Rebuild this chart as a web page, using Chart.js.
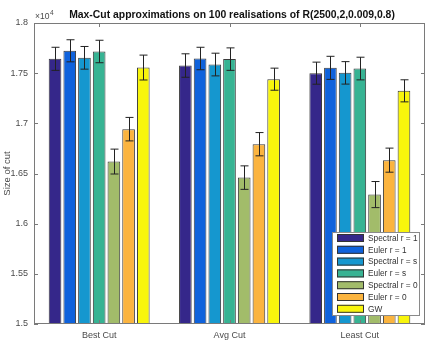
<!DOCTYPE html>
<html>
<head>
<meta charset="utf-8">
<script src="https://cdn.jsdelivr.net/npm/chart.js@4.4.1/dist/chart.umd.min.js"></script>
<style>
  body { margin: 0; background: #fff; }
  #wrap { width: 432px; height: 348px; position: relative; }
</style>
</head>
<body>
<div id="wrap"><canvas id="cut-chart"></canvas></div>
<script>
// Max-Cut approximations — values in units of 1e4
const categories = ['Best Cut', 'Avg Cut', 'Least Cut'];
const seriesNames = ['Spectral r = 1', 'Euler r = 1', 'Spectral r = s', 'Euler r = s', 'Spectral r = 0', 'Euler r = 0', 'GW'];
const seriesColors = ['#35278a', '#0f62dc', '#1597cf', '#37b393', '#a2bc6a', '#fbb43f', '#f8f50c'];

const spectral1 = [1.7643, 1.7576, 1.7500];
const euler1 = [1.7723, 1.7646, 1.7553];
const spectralS = [1.7653, 1.7586, 1.7503];
const eulerS = [1.7716, 1.7640, 1.7546];
const spectral0 = [1.6619, 1.6459, 1.6290];
const euler0 = [1.6942, 1.6792, 1.6633];
const gw = [1.7556, 1.7440, 1.7324];

const spectral1Err = [0.0115, 0.0117, 0.0110];
const euler1Err = [0.0110, 0.0112, 0.0115];
const spectralSErr = [0.0113, 0.0113, 0.0112];
const eulerSErr = [0.0112, 0.0112, 0.0113];
const spectral0Err = [0.0124, 0.0117, 0.0130];
const euler0Err = [0.0117, 0.0116, 0.0120];
const gwErr = [0.0124, 0.0110, 0.0110];

const yTickLabels = ['1.5', '1.55', '1.6', '1.65', '1.7', '1.75', '1.8'];

const values = [spectral1, euler1, spectralS, eulerS, spectral0, euler0, gw];
const errors = [spectral1Err, euler1Err, spectralSErr, eulerSErr, spectral0Err, euler0Err, gwErr];

const FONT = "'Liberation Sans', Arial, sans-serif";
const TXT = '#4a4a4a';
const AXIS = '#7a7a7a';

// error bars, frame with inward ticks, legend, title
const decor = {
  id: 'decor',
  afterDatasetsDraw(chart) {
    const ctx = chart.ctx;
    const y = chart.scales.y;
    ctx.save();
    ctx.strokeStyle = '#222';
    ctx.lineWidth = 1;
    chart.data.datasets.forEach((ds, di) => {
      chart.getDatasetMeta(di).data.forEach((bar, i) => {
        const v = ds.data[i], e = errors[di][i];
        const x = Math.round(bar.x) + 0.5;
        const yt = y.getPixelForValue(v + e), yb = y.getPixelForValue(v - e);
        ctx.beginPath();
        ctx.moveTo(x, yt); ctx.lineTo(x, yb);
        ctx.moveTo(x - 4, yt); ctx.lineTo(x + 4, yt);
        ctx.moveTo(x - 4, yb); ctx.lineTo(x + 4, yb);
        ctx.stroke();
      });
    });
    ctx.restore();
  },
  afterDraw(chart) {
    const ctx = chart.ctx;
    const a = chart.chartArea;
    const xs = chart.scales.x, ys = chart.scales.y;
    ctx.save();
    ctx.strokeStyle = AXIS;
    ctx.lineWidth = 1;
    ctx.strokeRect(Math.round(a.left) + 0.5, Math.round(a.top) + 0.5,
      Math.round(a.right - a.left) - 1, Math.round(a.bottom - a.top) - 1);
    ctx.beginPath();
    ys.ticks.forEach((t, i) => {
      const py = Math.round(ys.getPixelForTick(i)) + 0.5;
      ctx.moveTo(a.left, py); ctx.lineTo(a.left + 4, py);
      ctx.moveTo(a.right, py); ctx.lineTo(a.right - 4, py);
    });
    categories.forEach((c, i) => {
      const px = Math.round(xs.getPixelForValue(i)) + 0.5;
      ctx.moveTo(px, a.bottom); ctx.lineTo(px, a.bottom - 4);
      ctx.moveTo(px, a.top); ctx.lineTo(px, a.top + 4);
    });
    ctx.stroke();

    // exponent label
    ctx.fillStyle = TXT;
    ctx.textBaseline = 'alphabetic';
    ctx.textAlign = 'left';
    ctx.font = '8.5px ' + FONT;
    ctx.fillText('\u00d710', a.left + 1, 19);
    ctx.font = '6.5px ' + FONT;
    ctx.fillText('4', a.left + 16, 15);

    // title
    ctx.fillStyle = '#111';
    ctx.font = 'bold 10.4px ' + FONT;
    ctx.textAlign = 'center';
    ctx.fillText('Max-Cut approximations on 100 realisations of R(2500,2,0.009,0.8)', 232, 18);

    // legend
    const lx = 332, ly = 232, lw = 87, lh = 83;
    ctx.fillStyle = '#fff';
    ctx.fillRect(lx, ly, lw, lh);
    ctx.strokeStyle = '#8a8a8a';
    ctx.strokeRect(lx + 0.5, ly + 0.5, lw, lh);
    ctx.font = '8.3px ' + FONT;
    ctx.textAlign = 'left';
    ctx.textBaseline = 'middle';
    seriesNames.forEach((name, i) => {
      const ry = ly + 2 + i * 11.8;
      ctx.fillStyle = seriesColors[i];
      ctx.fillRect(lx + 5, ry, 27, 8);
      ctx.strokeStyle = '#333';
      ctx.strokeRect(lx + 5.5, ry + 0.5, 26, 7);
      ctx.fillStyle = '#333';
      ctx.fillText(name, lx + 36, ry + 4.5);
    });
    ctx.restore();
  }
};

new Chart(document.getElementById('cut-chart'), {
  type: 'bar',
  data: {
    labels: categories,
    datasets: seriesNames.map((name, i) => ({
      label: name,
      data: values[i],
      backgroundColor: seriesColors[i],
      borderColor: '#3a3a3a',
      borderWidth: 1,
      borderSkipped: false,
      categoryPercentage: 0.79,
      barPercentage: 0.86,
    }))
  },
  options: {
    responsive: true,
    maintainAspectRatio: false,
    animation: false,
    layout: { padding: { top: 23, right: 7, left: 0, bottom: 0 } },
    plugins: { legend: { display: false }, title: { display: false }, tooltip: { enabled: false } },
    scales: {
      x: {
        grid: { display: false, drawTicks: false },
        border: { display: false },
        ticks: { color: TXT, font: { family: FONT, size: 9 }, padding: 6 },
        afterFit: s => { s.height = 24; }
      },
      y: {
        min: 1.5, max: 1.8,
        grid: { display: false, drawTicks: false },
        border: { display: false },
        ticks: { stepSize: 0.05, color: TXT, font: { family: FONT, size: 9 }, padding: 6,
                 callback: (v, i) => yTickLabels[i] },
        title: { display: true, text: 'Size of cut', color: TXT, font: { family: FONT, size: 9.5 }, padding: { top: 2, bottom: 0 } },
        afterFit: s => { s.width = 34; }
      }
    }
  },
  plugins: [decor]
});
</script>
</body>
</html>
